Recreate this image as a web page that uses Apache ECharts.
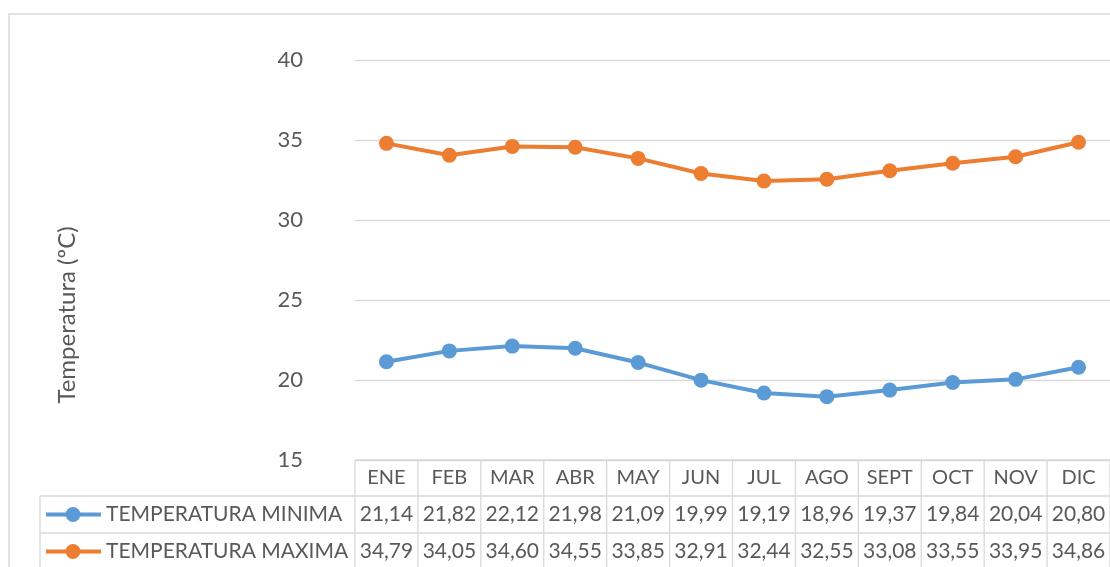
<!DOCTYPE html>
<html>
<head>
<meta charset="utf-8">
<script src="https://cdn.jsdelivr.net/npm/echarts@6/dist/echarts.min.js"></script>
<style>
  html, body { margin: 0; padding: 0; background: #fff; }
  #main { width: 1110px; height: 567px; }
</style>
</head>
<body>
<div id="main"></div>
<script>
  // datos
  var months = ['ENE', 'FEB', 'MAR', 'ABR', 'MAY', 'JUN', 'JUL', 'AGO', 'SEPT', 'OCT', 'NOV', 'DIC'];
  var tempMin = [21.14, 21.82, 22.12, 21.98, 21.09, 19.99, 19.19, 18.96, 19.37, 19.84, 20.04, 20.80];
  var tempMax = [34.79, 34.05, 34.60, 34.55, 33.85, 32.91, 32.44, 32.55, 33.08, 33.55, 33.95, 34.86];
  var seriesNames = ['TEMPERATURA MINIMA', 'TEMPERATURA MAXIMA'];
  var yTitle = 'Temperatura (ºC)';
  var yTicks = [15, 20, 25, 30, 35, 40];

  var colors = ['#5B9BD5', '#ED7D31'];
  var textColor = '#595959';
  var borderColor = '#D9D9D9';
  var font = 'Lato, "Open Sans", sans-serif';

  var chart = echarts.init(document.getElementById('main'));

  var option = {
    animation: false,
    grid: { left: 355, top: 60, width: 757, height: 400 },
    xAxis: {
      type: 'category',
      data: months,
      boundaryGap: true,
      axisLine: { show: false },
      axisTick: { show: false },
      axisLabel: { color: textColor, fontSize: 20, fontFamily: font, margin: 8 }
    },
    yAxis: {
      type: 'value',
      min: yTicks[0],
      max: yTicks[yTicks.length - 1],
      interval: 5,
      axisLine: { show: false },
      axisTick: { show: false },
      axisLabel: { color: textColor, fontSize: 22, fontFamily: font, margin: 52 },
      splitLine: { lineStyle: { color: borderColor, width: 1.3 } }
    },
    series: [
      {
        name: seriesNames[0], type: 'line', data: tempMin,
        symbol: 'circle', symbolSize: 15,
        lineStyle: { color: colors[0], width: 4 },
        itemStyle: { color: colors[0] }
      },
      {
        name: seriesNames[1], type: 'line', data: tempMax,
        symbol: 'circle', symbolSize: 15,
        lineStyle: { color: colors[1], width: 4 },
        itemStyle: { color: colors[1] }
      }
    ]
  };
  chart.setOption(option);

  // tabla de datos debajo del grafico
  var xs = months.map(function (m, i) { return chart.convertToPixel({ xAxisIndex: 0 }, i); });
  var colW = xs[1] - xs[0];
  var left = xs[0] - colW / 2;
  var right = xs[xs.length - 1] + colW / 2;
  var tableTop = chart.convertToPixel({ yAxisIndex: 0 }, yTicks[0]);
  var rowH = 37;
  var legLeft = 40;
  var els = [];
  var ls = { stroke: borderColor, lineWidth: 1.3 };

  // borde exterior
  els.push({ type: 'rect', shape: { x: 9, y: 14, width: 1200, height: 700 }, style: { fill: null, stroke: borderColor, lineWidth: 1.5 }, silent: true });

  // titulo eje vertical
  els.push({ type: 'text', x: 67, y: 315, rotation: Math.PI / 2, style: { text: yTitle, fill: textColor, fontSize: 24, fontFamily: font, align: 'center', verticalAlign: 'middle' } });

  els.push({ type: 'line', shape: { x1: left, y1: tableTop, x2: right, y2: tableTop }, style: ls });
  for (var r = 1; r <= 3; r++) {
    var y = tableTop + r * rowH - 1;
    els.push({ type: 'line', shape: { x1: legLeft, y1: y, x2: right, y2: y }, style: ls });
  }
  els.push({ type: 'line', shape: { x1: legLeft, y1: tableTop + rowH - 1, x2: legLeft, y2: 600 }, style: ls });
  for (var c = 0; c <= months.length; c++) {
    var x = left + c * colW;
    els.push({ type: 'line', shape: { x1: x, y1: tableTop, x2: x, y2: 600 }, style: ls });
  }

  [tempMin, tempMax].forEach(function (vals, s) {
    var cy = tableTop + rowH * (s + 1) + rowH / 2 - 1;
    els.push({ type: 'line', shape: { x1: 46, y1: cy, x2: 101, y2: cy }, style: { stroke: colors[s], lineWidth: 4 } });
    els.push({ type: 'circle', shape: { cx: 73, cy: cy, r: 7.5 }, style: { fill: colors[s] } });
    els.push({ type: 'text', x: 106, y: cy, style: { text: seriesNames[s], fill: textColor, fontSize: 21, fontFamily: font, verticalAlign: 'middle', align: 'left' } });
    vals.forEach(function (v, i) {
      els.push({ type: 'text', x: xs[i], y: cy, style: { text: v.toFixed(2).replace('.', ','), fill: textColor, fontSize: 21, fontFamily: font, verticalAlign: 'middle', align: 'center' } });
    });
  });

  chart.setOption({ graphic: els });
</script>
</body>
</html>
